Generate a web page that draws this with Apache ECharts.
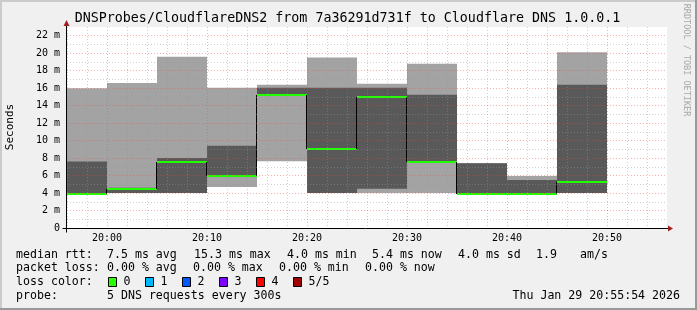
<!DOCTYPE html>
<html><head><meta charset="utf-8">
<script src="https://cdn.jsdelivr.net/npm/echarts@6/dist/echarts.min.js"></script>
<style>html,body{margin:0;padding:0;background:#f0f0f0}#c{width:697px;height:310px}</style>
</head><body><div id="c"></div><script>
// ---- data (times in minutes since 00:00, rtt in ms) ----
const intervalStart = [1196, 1200, 1205, 1210, 1215, 1220, 1225, 1230, 1235, 1240, 1245];
const intervalEnd   = [1200, 1205, 1210, 1215, 1220, 1225, 1230, 1235, 1240, 1245, 1250];
const pingMin  = [4.0, 4.0,  4.0, 4.7,  7.65, 4.0,  4.0,   4.0,   4.0, 4.0,  4.0];
const ping2    = [4.0, 4.0,  4.0, 6.0,  15.2, 4.0,  4.5,   7.6,   4.0, 4.0,  4.0];
const medianRtt= [4.0, 4.55, 7.7, 6.05, 15.3, 9.15, 15.15, 7.7,   4.0, 4.0,  5.4];
const ping4    = [7.6, 4.6,  8.0, 9.4,  16.05,16.05,16.05, 15.25, 7.4, 5.5,  16.4];
const pingMax  = [16.0,16.6, 19.6,16.05,16.4, 19.5, 16.5,  18.8,  7.4, 5.95, 20.1];

const xLabelValues = [1200, 1210, 1220, 1230, 1240, 1250];
const xLabels      = ['20:00', '20:10', '20:20', '20:30', '20:40', '20:50'];
const yLabelValues = [0, 2, 4, 6, 8, 10, 12, 14, 16, 18, 20, 22];
const yLabels      = ['0', '2 m', '4 m', '6 m', '8 m', '10 m', '12 m', '14 m', '16 m', '18 m', '20 m', '22 m'];

const titleText = 'DNSProbes/CloudflareDNS2 from 7a36291d731f to Cloudflare DNS 1.0.0.1';
const lossLabels = ['0', '1', '2', '3', '4', '5/5'];
const lossColors = ['#26ff00', '#00b8ff', '#0059ff', '#7e00ff', '#ff0000', '#a10000'];

const MONO = '"DejaVu Sans Mono", monospace';
const chart = echarts.init(document.getElementById('c'), null, {renderer: 'canvas'});

const smokeData = intervalStart.map((s, i) => [s, intervalEnd[i], pingMin[i], ping2[i], medianRtt[i], ping4[i], pingMax[i]]);
const stepData = [];
for (let i = 1; i < intervalStart.length; i++) {
  if (intervalStart[i] === intervalEnd[i - 1]) stepData.push([intervalStart[i], medianRtt[i - 1], medianRtt[i]]);
}

function renderSmoke(params, api) {
  const s = api.value(0), e = api.value(1);
  const lo = api.coord([s, api.value(2)]), hi = api.coord([e, api.value(6)]);
  const dlo = api.coord([s, api.value(3)]), dhi = api.coord([e, api.value(5)]);
  const m1 = api.coord([s, api.value(4)]), m2 = api.coord([e, api.value(4)]);
  const my = Math.round(m1[1]) + 1;
  return {type: 'group', children: [
    {type: 'rect', shape: {x: lo[0], y: hi[1], width: hi[0] - lo[0], height: lo[1] - hi[1]}, style: {fill: '#a3a3a3'}},
    {type: 'rect', shape: {x: dlo[0], y: dhi[1], width: dhi[0] - dlo[0], height: dlo[1] - dhi[1]}, style: {fill: '#595959'}},
    {type: 'line', shape: {x1: m1[0], y1: my, x2: m2[0], y2: my}, style: {stroke: '#22ff00', lineWidth: 2}}
  ]};
}
function renderStep(params, api) {
  const a = api.coord([api.value(0), api.value(1)]);
  const b = api.coord([api.value(0), api.value(2)]);
  const x = Math.round(a[0]) - 0.5;
  return {type: 'line', shape: {x1: x, y1: Math.round(a[1]) + 1, x2: x, y2: Math.round(b[1]) + 1}, style: {stroke: '#000', lineWidth: 1}};
}

const RED = 'rgba(255,64,64,0.42)', GREY = 'rgba(150,150,150,0.45)';

chart.setOption({
  animation: false,
  backgroundColor: '#f0f0f0',
  grid: {left: 67, top: 27, width: 600, height: 201, show: true, backgroundColor: '#ffffff', borderWidth: 0},
  xAxis: {
    type: 'value', min: 1196, max: 1256, interval: 2, z: 5,
    axisLine: {show: false}, axisTick: {show: false},
    axisLabel: {
      fontFamily: MONO, fontSize: 10, color: '#000', margin: 5,
      formatter: v => { const k = xLabelValues.indexOf(v); return k >= 0 ? xLabels[k] : ''; }
    },
    splitLine: {show: true, showMaxLine: false, lineStyle: {color: [GREY, GREY, RED, GREY, GREY], type: [1, 2], width: 1}}
  },
  yAxis: {
    type: 'value', min: 0, max: 23, interval: 1, z: 5,
    axisLine: {show: false}, axisTick: {show: false},
    axisLabel: {
      fontFamily: MONO, fontSize: 10, color: '#000', margin: 7,
      formatter: v => { const k = yLabelValues.indexOf(v); return k >= 0 ? yLabels[k] : ''; }
    },
    splitLine: {show: true, showMaxLine: false, lineStyle: {color: [RED, GREY], type: [1, 2], width: 1}}
  },
  series: [
    {type: 'custom', renderItem: renderSmoke, data: smokeData, encode: {x: [0, 1], y: [2, 6]}, clip: true, z: 2, silent: true},
    {type: 'custom', renderItem: renderStep, data: stepData, encode: {x: 0, y: [1, 2]}, clip: true, z: 3, silent: true}
  ]
});

// decorations: frame, axes with arrows, texts
const o = chart.convertToPixel({gridIndex: 0}, [1196, 0]);
const tr = chart.convertToPixel({gridIndex: 0}, [1256, 23]);
const ax = Math.round(o[0]) - 0.5, ay = Math.round(o[1]) + 0.5;
const W = 697, H = 310;
const g = [];
// 3D frame
g.push({type: 'rect', shape: {x: 0, y: 0, width: W, height: 2}, style: {fill: '#cbcbcb'}, z: 50});
g.push({type: 'rect', shape: {x: 0, y: 0, width: 2, height: H}, style: {fill: '#cbcbcb'}, z: 50});
g.push({type: 'rect', shape: {x: 0, y: H - 2, width: W, height: 2}, style: {fill: '#999999'}, z: 51});
g.push({type: 'rect', shape: {x: W - 2, y: 0, width: 2, height: H}, style: {fill: '#999999'}, z: 51});
// axes
g.push({type: 'line', shape: {x1: ax, y1: ay + 4, x2: ax, y2: tr[1] - 5}, style: {stroke: '#000', lineWidth: 1}, z: 20});
g.push({type: 'line', shape: {x1: ax - 4, y1: ay, x2: tr[0] + 1, y2: ay}, style: {stroke: '#000', lineWidth: 1}, z: 20});
g.push({type: 'polygon', shape: {points: [[ax, tr[1] - 7], [ax - 3, tr[1] - 1], [ax + 3, tr[1] - 1]]}, style: {fill: '#a01f1f'}, z: 21});
g.push({type: 'polygon', shape: {points: [[tr[0] + 6, ay], [tr[0] + 1, ay - 3], [tr[0] + 1, ay + 3]]}, style: {fill: '#a01f1f'}, z: 21});
// title
g.push({type: 'text', x: 347.5, y: 19, style: {text: titleText, fontFamily: MONO, fontSize: 13.33, fill: '#000', align: 'center', verticalAlign: 'middle'}, z: 30});
// y axis name
g.push({type: 'text', x: 10.5, y: 127, rotation: Math.PI / 2, style: {text: 'Seconds', fontFamily: MONO, fontSize: 11, fill: '#000', align: 'center', verticalAlign: 'middle'}, z: 30});
// watermark
g.push({type: 'text', x: 686.5, y: 60, rotation: -Math.PI / 2, style: {text: 'RRDTOOL / TOBI OETIKER', fontFamily: MONO, fontSize: 8.5, fill: '#a8a8a8', align: 'center', verticalAlign: 'middle'}, z: 30});
// legend rows
const LF = 11.6;
function txt(t, x, y, align) {
  g.push({type: 'text', x: x, y: y, style: {text: t, fontFamily: MONO, fontSize: LF, fill: '#000', align: align || 'left', verticalAlign: 'middle'}, z: 30});
}
const r1 = 254.5, r2 = 268, r3 = 282, r4 = 296;
txt('median rtt:', 16, r1);
txt('7.5 ms avg', 107, r1);
txt('15.3 ms max', 194, r1);
txt('4.0 ms min', 287, r1);
txt('5.4 ms now', 372, r1);
txt('4.0 ms sd', 458, r1);
txt('1.9', 536, r1);
txt('am/s', 580, r1);
txt('packet loss:', 16, r2);
txt('0.00 % avg', 107, r2);
txt('0.00 % max', 193, r2);
txt('0.00 % min', 279, r2);
txt('0.00 % now', 365, r2);
txt('loss color:', 16, r3);
lossLabels.forEach((l, i) => {
  const bx = 108.5 + i * 37;
  g.push({type: 'rect', shape: {x: bx, y: r3 - 4.5, width: 8, height: 9}, style: {fill: lossColors[i], stroke: '#000', lineWidth: 1}, z: 30});
  txt(l, bx + 15, r3);
});
txt('probe:', 16, r4);
txt('5 DNS requests every 300s', 107, r4);
txt('Thu Jan 29 20:55:54 2026', 680, r4, 'right');
chart.setOption({graphic: {elements: g}});
</script></body></html>
